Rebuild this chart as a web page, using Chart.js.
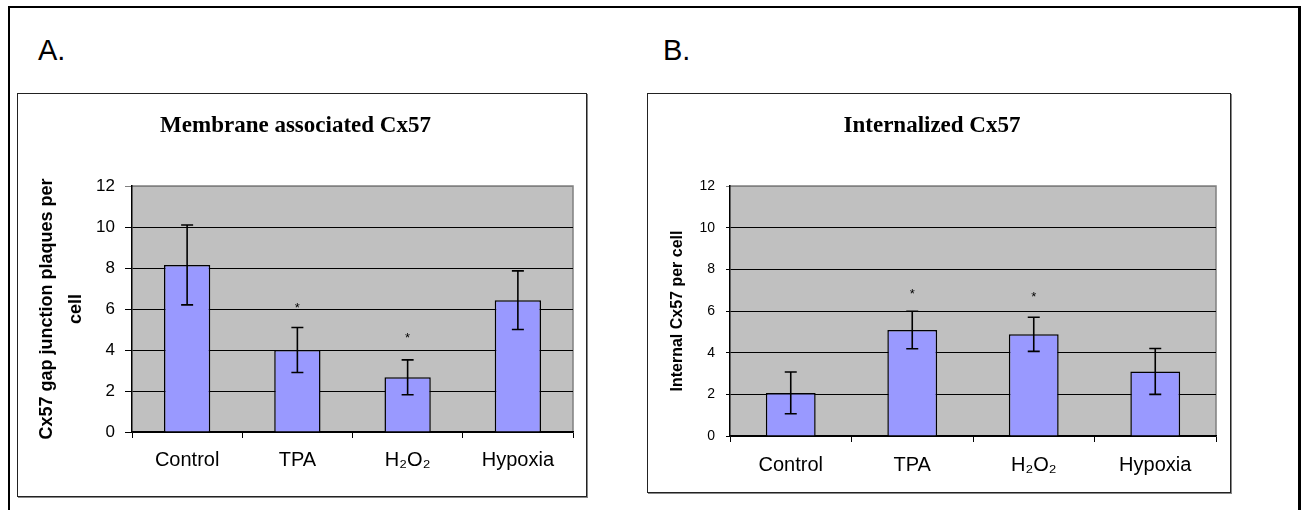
<!DOCTYPE html>
<html>
<head>
<meta charset="utf-8">
<script src="https://cdn.jsdelivr.net/npm/chart.js@4.4.1/dist/chart.umd.min.js"></script>
<style>
  body { margin: 0; background: #fff; width: 1302px; height: 510px; overflow: hidden; position: relative; font-family: "Liberation Sans", Arial, sans-serif; }
  #frame { position: absolute; left: 8px; top: 6px; width: 1293px; height: 520px; box-sizing: border-box; border: 2px solid #000; border-right-width: 3px; }
  .panel { position: absolute; box-sizing: border-box; border: 1px solid #222; box-shadow: 1px 1px 0 #888; background: #fff; }
  .panel canvas { position: absolute; left: 0; top: 0; }
  .letter { position: absolute; font-size: 29px; line-height: 29px; color: #000; }
</style>
</head>
<body>
<div id="frame"></div>
<div class="letter" style="left:38px; top:36px;">A.</div>
<div class="letter" style="left:663px; top:36px;">B.</div>
<div class="panel" style="left:17px; top:93px; width:570px; height:404px;">
  <canvas id="chartA" width="568" height="402"></canvas>
</div>
<div class="panel" style="left:647px; top:93px; width:584px; height:400px;">
  <canvas id="chartB" width="582" height="398"></canvas>
</div>
<script>
// data
const categories = ['Control', 'TPA', 'H₂O₂', 'Hypoxia'];

const membraneValues = [8.15, 4.0, 2.67, 6.43];
const membraneErrors = [1.95, 1.1, 0.85, 1.43];
const membraneStars = [null, 6.2, 4.75, null];

const internalValues = [2.07, 5.09, 4.88, 3.1];
const internalErrors = [1.0, 0.9, 0.82, 1.1];
const internalStars = [null, 6.97, 6.86, null];

const yMin = 0;
const yMax = 12;
const yStep = 2;

Chart.defaults.font.family = '"Liberation Sans", Arial, sans-serif';
Chart.defaults.color = '#000';

const plotBackground = {
    id: 'plotBackground',
    beforeDraw(chart) {
        const {ctx, chartArea: a} = chart;
        ctx.save();
        ctx.fillStyle = '#c0c0c0';
        ctx.fillRect(a.left, a.top, a.width, a.height);
        ctx.strokeStyle = '#808080';
        ctx.lineWidth = 1.5;
        ctx.beginPath();
        ctx.moveTo(a.left, a.top);
        ctx.lineTo(a.right, a.top);
        ctx.lineTo(a.right, a.bottom);
        ctx.stroke();
        ctx.restore();
    }
};

const errorBars = {
    id: 'errorBars',
    afterDatasetsDraw(chart, args, opts) {
        const {ctx} = chart;
        const y = chart.scales.y;
        const values = chart.data.datasets[0].data;
        const bars = chart.getDatasetMeta(0).data;
        ctx.save();
        ctx.strokeStyle = '#000';
        ctx.lineWidth = 1.6;
        ctx.fillStyle = '#000';
        ctx.font = '13px "Liberation Sans", Arial, sans-serif';
        ctx.textAlign = 'center';
        ctx.textBaseline = 'alphabetic';
        bars.forEach((bar, i) => {
            const top = y.getPixelForValue(values[i] + opts.errors[i]);
            const bottom = y.getPixelForValue(values[i] - opts.errors[i]);
            ctx.beginPath();
            ctx.moveTo(bar.x, top);
            ctx.lineTo(bar.x, bottom);
            ctx.moveTo(bar.x - 6, top);
            ctx.lineTo(bar.x + 6, top);
            ctx.moveTo(bar.x - 6, bottom);
            ctx.lineTo(bar.x + 6, bottom);
            ctx.stroke();
            if (opts.stars[i] != null) {
                ctx.fillText('*', bar.x, y.getPixelForValue(opts.stars[i]) + 0.58 * 13);
            }
        });
        ctx.restore();
    }
};

function buildChart(canvas, cfg) {
    return new Chart(canvas, {
        type: 'bar',
        data: {
            labels: categories,
            datasets: [{
                data: cfg.values,
                backgroundColor: '#9999ff',
                borderColor: '#000',
                borderWidth: 1.5,
                barPercentage: cfg.barPct,
                categoryPercentage: 1
            }]
        },
        options: {
            responsive: false,
            animation: false,
            devicePixelRatio: 1,
            layout: { padding: { left: 0, right: cfg.padRight, top: 0, bottom: 0 } },
            plugins: {
                legend: { display: false },
                tooltip: { enabled: false },
                title: {
                    display: true,
                    text: cfg.title,
                    color: '#000',
                    font: { family: '"Liberation Serif", "Times New Roman", serif', size: 23, weight: 'bold' },
                    padding: { top: cfg.titleTop, bottom: cfg.titleBottom }
                },
                errorBars: { errors: cfg.errors, stars: cfg.stars }
            },
            scales: {
                x: {
                    grid: { drawOnChartArea: false, color: '#000', tickLength: 6, offset: true },
                    border: { color: '#000', width: 1.5 },
                    ticks: { color: '#000', font: { size: 20 }, padding: cfg.xPad, maxRotation: 0 },
                    afterFit: s => { s.height = cfg.xHeight; }
                },
                y: {
                    min: yMin,
                    max: yMax,
                    ticks: { stepSize: yStep, color: '#000', font: { size: cfg.yFont }, padding: cfg.yPad },
                    grid: {
                        color: c => (c.tick && c.tick.value === yMax) ? '#808080' : '#000',
                        tickLength: cfg.yTick,
                        lineWidth: 1
                    },
                    border: { color: '#000', width: 1.5 },
                    title: {
                        display: true,
                        text: cfg.yTitle,
                        color: '#000',
                        font: { size: cfg.yTitleSize, weight: 'bold', lineHeight: cfg.yTitleLH },
                        padding: { top: cfg.yTitleTop, bottom: 0 }
                    },
                    afterFit: s => { s.width = cfg.yWidth; }
                }
            }
        },
        plugins: [plotBackground, errorBars]
    });
}

buildChart(document.getElementById('chartA'), {
    values: membraneValues, errors: membraneErrors, stars: membraneStars,
    title: 'Membrane associated Cx57',
    yTitle: ['Cx57 gap junction plaques per', 'cell'],
    yTitleSize: 18, yTitleLH: 1.6, yTitleTop: 14.6,
    titleTop: 18.2, titleBottom: 46.2,
    padRight: 13, yWidth: 114, xHeight: 64,
    barPct: 0.42, xPad: 10,
    yFont: 17, yTick: 7, yPad: 10
});

buildChart(document.getElementById('chartB'), {
    values: internalValues, errors: internalErrors, stars: internalStars,
    title: 'Internalized Cx57',
    yTitle: 'Internal Cx57 per cell',
    yTitleSize: 16, yTitleLH: 1.2, yTitleTop: 20.4,
    titleTop: 18.2, titleBottom: 46.2,
    padRight: 14, yWidth: 82, xHeight: 56,
    barPct: 0.41, xPad: 11,
    yFont: 14, yTick: 4, yPad: 11
});
</script>
</body>
</html>
